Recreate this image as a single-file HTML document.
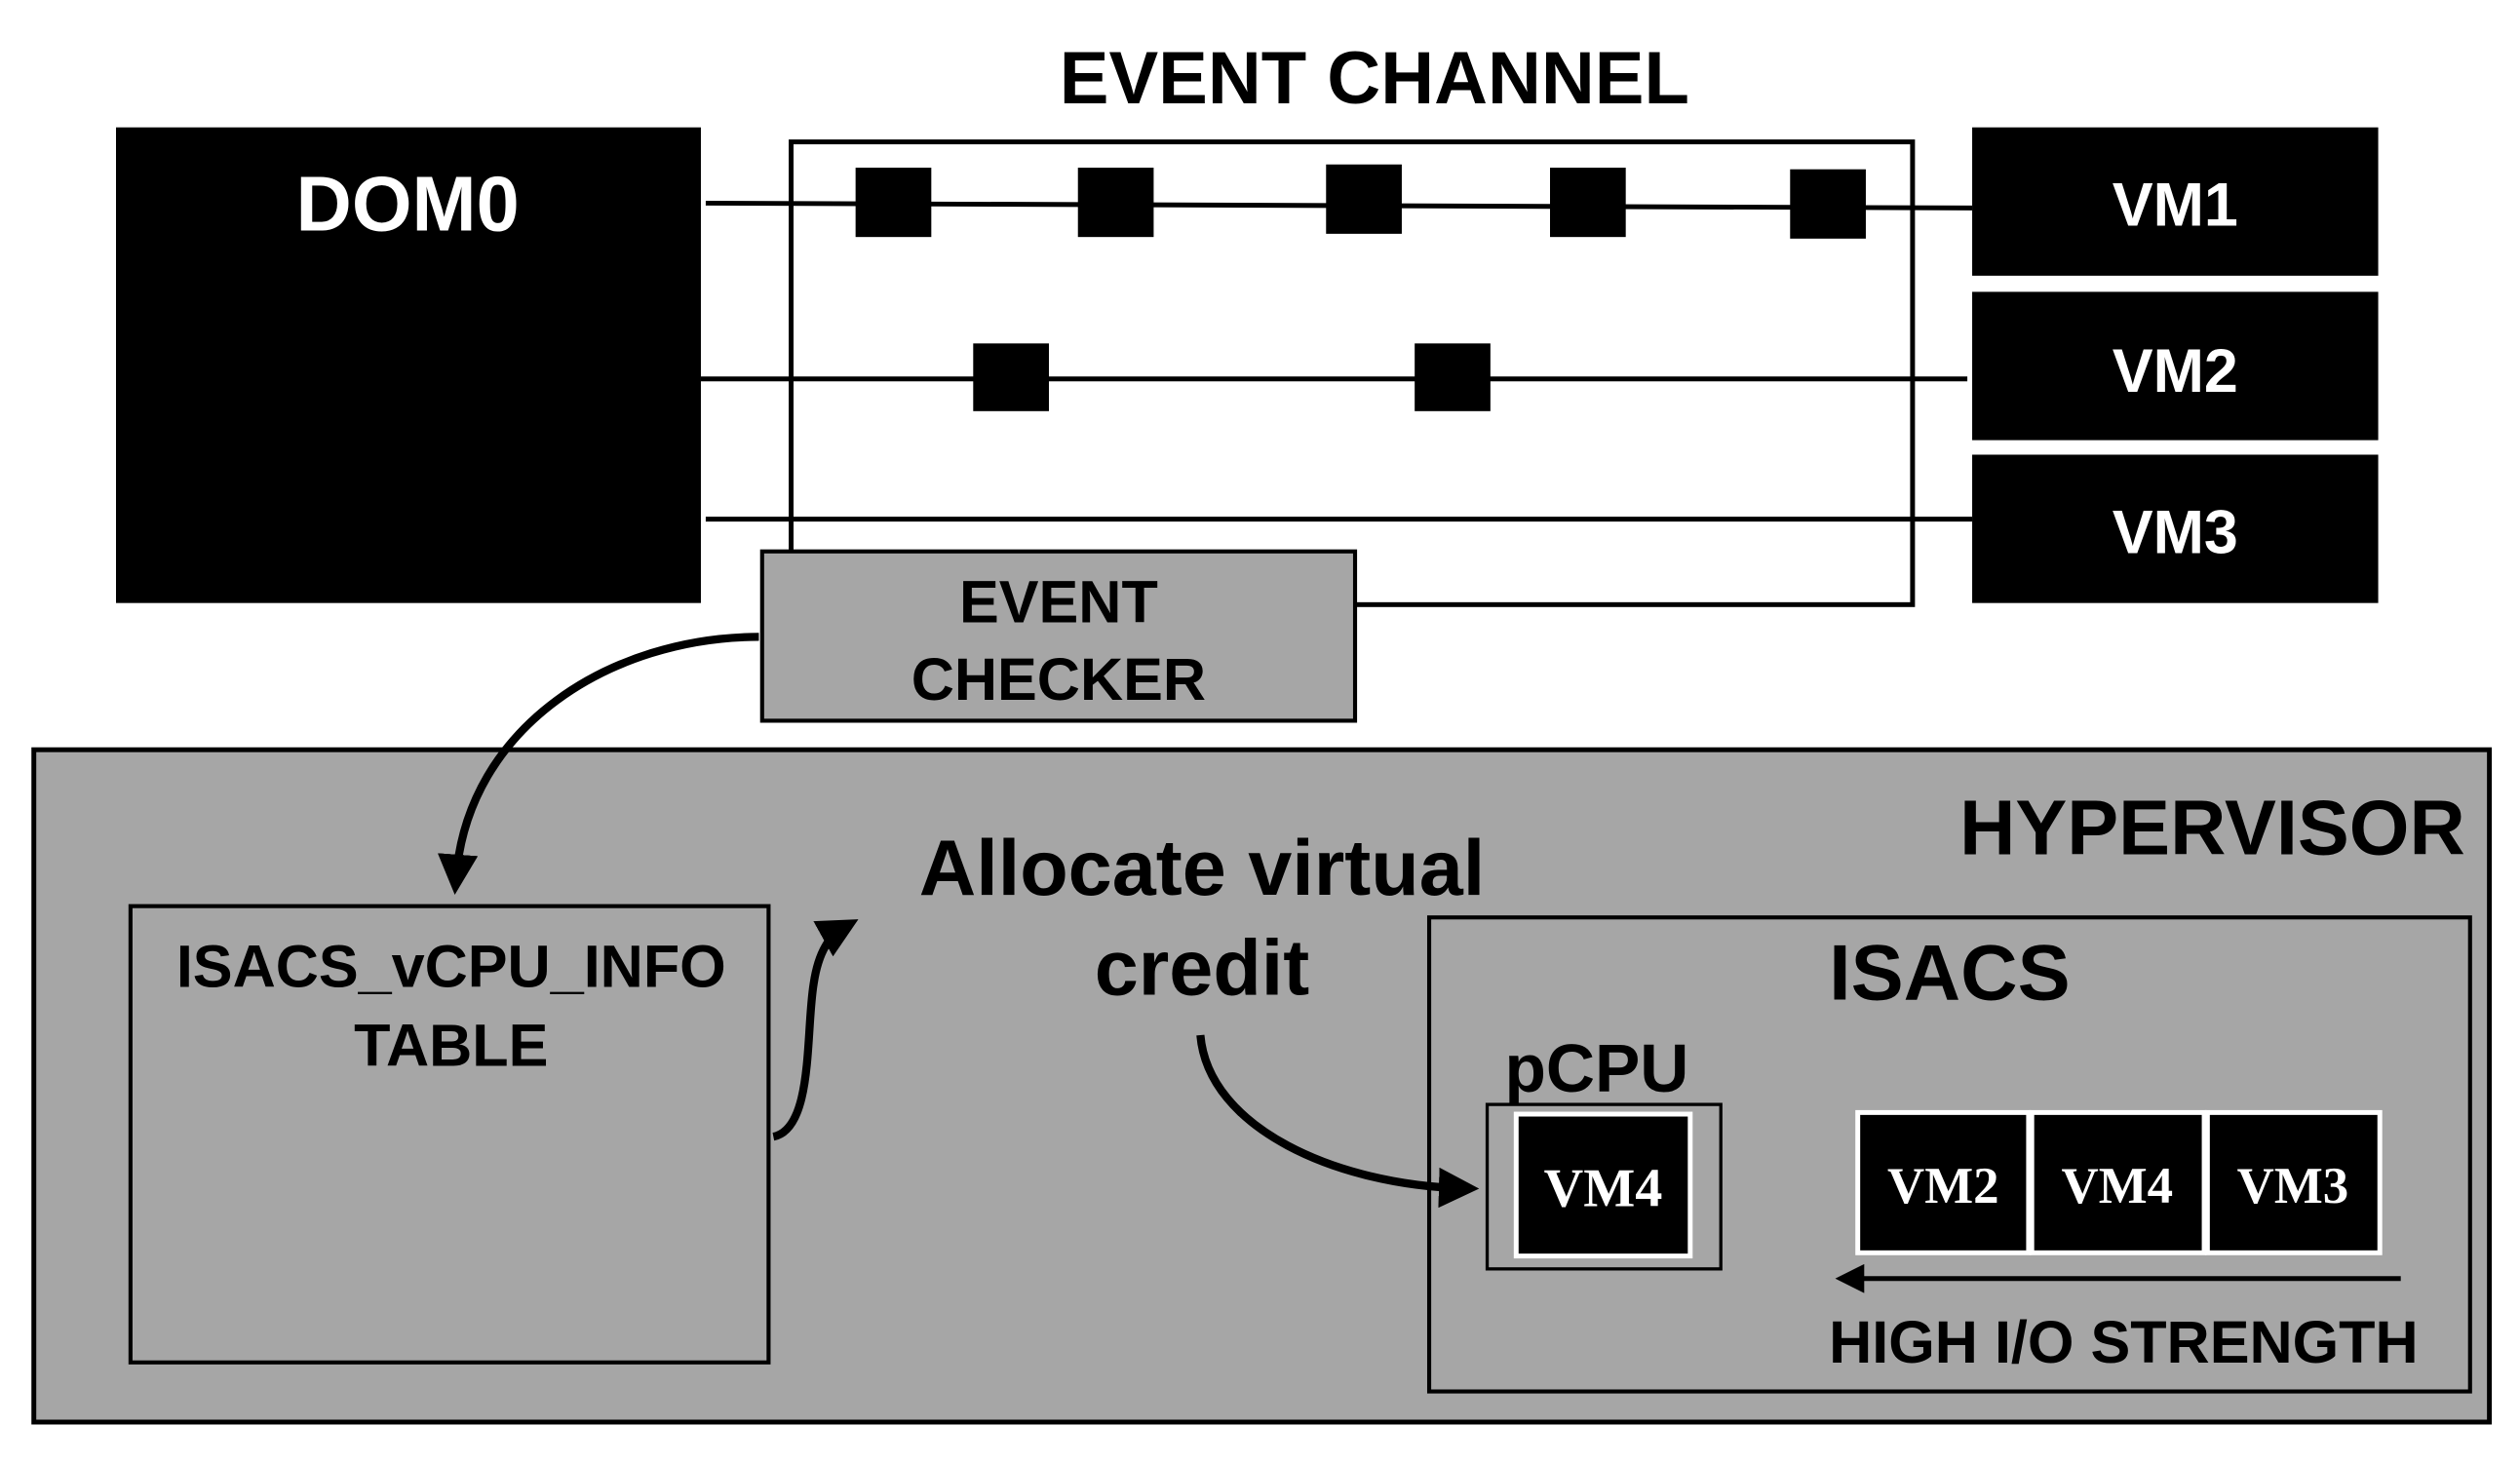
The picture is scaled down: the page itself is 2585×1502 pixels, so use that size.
<!DOCTYPE html>
<html><head><meta charset="utf-8"><style>html,body{margin:0;padding:0;background:#fff}svg{display:block}</style></head>
<body>
<svg width="2585" height="1502" viewBox="0 0 1564 908" preserveAspectRatio="none" xmlns="http://www.w3.org/2000/svg" font-family="'Liberation Sans', sans-serif" font-weight="bold">
<defs>
<marker id="ah" markerWidth="5" markerHeight="5" refX="3" refY="2.5" orient="auto" markerUnits="strokeWidth"><path d="M0,0 L5,2.5 L0,5 Z" fill="#000"/></marker>
<marker id="ah2" markerWidth="6" markerHeight="6" refX="4" refY="3" orient="auto" markerUnits="strokeWidth"><path d="M0,0 L6,3 L0,6 Z" fill="#000"/></marker>
</defs>
<rect width="1564" height="908" fill="#fff"/>
<text x="853" y="64" font-size="46" text-anchor="middle">EVENT CHANNEL</text>
<rect x="72" y="79" width="363" height="295" fill="#000"/>
<text x="253" y="143" font-size="48" fill="#fff" text-anchor="middle">DOM0</text>
<rect x="491" y="88" width="696" height="287" fill="none" stroke="#000" stroke-width="3"/>
<rect x="1224" y="79" width="252" height="92" fill="#000"/>
<rect x="1224" y="181" width="252" height="92" fill="#000"/>
<rect x="1224" y="282" width="252" height="92" fill="#000"/>
<text x="1350" y="140" font-size="38" fill="#fff" text-anchor="middle">VM1</text>
<text x="1350" y="243" font-size="38" fill="#fff" text-anchor="middle">VM2</text>
<text x="1350" y="343" font-size="38" fill="#fff" text-anchor="middle">VM3</text>
<g stroke="#000" stroke-width="3">
<line x1="438" y1="126" x2="1224" y2="129"/>
<line x1="435" y1="235" x2="1221" y2="235"/>
<line x1="438" y1="322" x2="1224" y2="322"/>
</g>
<g fill="#000">
<rect x="531" y="104" width="47" height="43"/>
<rect x="669" y="104" width="47" height="43"/>
<rect x="823" y="102" width="47" height="43"/>
<rect x="962" y="104" width="47" height="43"/>
<rect x="1111" y="105" width="47" height="43"/>
<rect x="604" y="213" width="47" height="42"/>
<rect x="878" y="213" width="47" height="42"/>
</g>
<rect x="473" y="342" width="368" height="105" fill="#a6a6a6" stroke="#000" stroke-width="2.5"/>
<text x="657" y="386" font-size="37" text-anchor="middle">EVENT</text>
<text x="657" y="434" font-size="37" text-anchor="middle">CHECKER</text>
<rect x="21" y="465" width="1524" height="417" fill="#a6a6a6" stroke="#000" stroke-width="3"/>
<text x="1530" y="530" font-size="48" text-anchor="end">HYPERVISOR</text>
<rect x="81" y="562" width="396" height="283" fill="none" stroke="#000" stroke-width="2.5"/>
<text x="280" y="612" font-size="37" text-anchor="middle">ISACS_vCPU_INFO</text>
<text x="280" y="661" font-size="37" text-anchor="middle">TABLE</text>
<text x="746" y="555" font-size="49" text-anchor="middle">Allocate virtual</text>
<text x="746" y="617" font-size="49" text-anchor="middle">credit</text>
<rect x="887" y="569" width="646" height="294" fill="none" stroke="#000" stroke-width="2.5"/>
<text x="1210" y="620" font-size="49" text-anchor="middle">ISACS</text>
<text x="991" y="677" font-size="42" text-anchor="middle">pCPU</text>
<rect x="923" y="685" width="145" height="102" fill="none" stroke="#000" stroke-width="2"/>
<rect x="941" y="691" width="108" height="88" fill="#000" stroke="#fff" stroke-width="3"/>
<g font-family="'Liberation Serif', serif" font-size="34" fill="#fff" text-anchor="middle">
<text x="995" y="748">VM4</text>
</g>
<g fill="#000" stroke="#fff" stroke-width="3">
<rect x="1153" y="690" width="106" height="87"/>
<rect x="1261" y="690" width="107" height="87"/>
<rect x="1370" y="690" width="107" height="87"/>
</g>
<g font-family="'Liberation Serif', serif" font-size="32" fill="#fff" text-anchor="middle">
<text x="1206" y="746">VM2</text>
<text x="1314" y="746">VM4</text>
<text x="1423" y="746">VM3</text>
</g>
<line x1="1490" y1="793" x2="1145" y2="793" stroke="#000" stroke-width="3" marker-end="url(#ah2)"/>
<text x="1318" y="845" font-size="37" text-anchor="middle">HIGH I/O STRENGTH</text>
<g fill="none" stroke="#000" stroke-width="5">
<path d="M471,395 C380,395 290,450 283,545" marker-end="url(#ah)"/>
<path d="M480,705 C505,700 500,640 505,610 C508,590 515,580 524,575" marker-end="url(#ah)"/>
<path d="M745,642 C750,700 830,735 908,737" marker-end="url(#ah)"/>
</g>
</svg>
</body></html>
